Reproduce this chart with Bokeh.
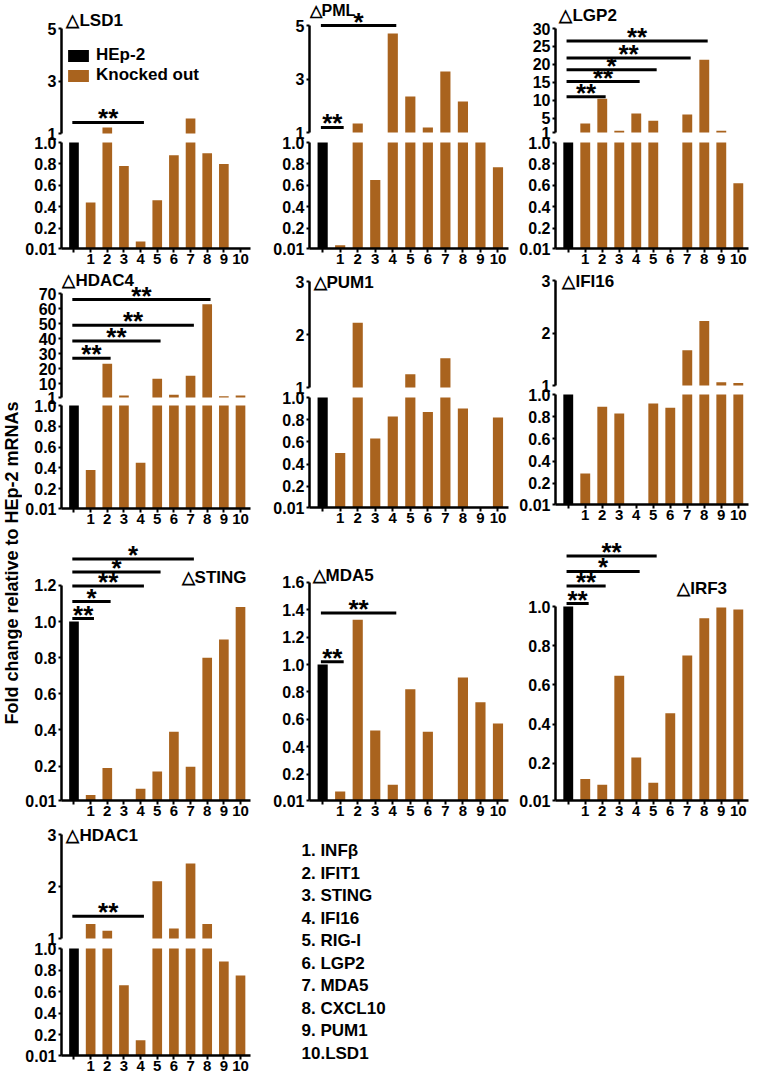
import math
from bokeh.plotting import figure
from bokeh.models import (Range1d, FixedTicker, CustomJSTickFormatter, Label,
                          Legend, LegendItem, ColumnDataSource, Spacer)
from bokeh.layouts import row, column
from bokeh.embed import file_html
from bokeh.resources import INLINE
from bokeh.core.properties import value

FONT = "Liberation Sans"
BLACK = "#000000"
ORANGE = "#A9631E"

# ---------------- data ----------------
categories = ["HEp-2", "1", "2", "3", "4", "5", "6", "7", "8", "9", "10"]
x_tick_labels = ["", "1", "2", "3", "4", "5", "6", "7", "8", "9", "10"]
legend_labels = ["HEp-2", "Knocked out"]
y_axis_title = "Fold change relative to HEp-2 mRNAs"

lsd1 = [1.0, 0.44, 1.23, 0.78, 0.075, 0.46, 0.88, 1.57, 0.90, 0.80, 0.0]
pml = [1.0, 0.04, 1.34, 0.65, 4.70, 2.35, 1.19, 3.28, 2.16, 1.00, 0.77]
lgp2 = [1.0, 3.5, 10.4, 1.5, 6.3, 4.3, 0.0, 6.0, 21.3, 1.5, 0.62]
hdac4 = [1.0, 0.38, 23.4, 2.3, 0.45, 13.5, 2.8, 15.5, 62.8, 1.8, 2.3]
pum1 = [1.0, 0.50, 2.22, 0.63, 0.83, 1.25, 0.87, 1.55, 0.90, 0.0, 0.82]
ifi16 = [1.0, 0.29, 0.89, 0.83, 0.0, 0.92, 0.88, 1.67, 2.23, 1.06, 1.05]
sting = [1.0, 0.04, 0.19, 0.0, 0.075, 0.17, 0.39, 0.196, 0.80, 0.90, 1.08]
mda5 = [1.0, 0.075, 1.325, 0.52, 0.125, 0.82, 0.51, 0.012, 0.905, 0.725, 0.57]
irf3 = [1.0, 0.12, 0.09, 0.647, 0.23, 0.10, 0.455, 0.75, 0.94, 0.995, 0.985]
hdac1 = [1.0, 1.28, 1.15, 0.66, 0.15, 2.10, 1.19, 2.44, 1.28, 0.88, 0.75]

# significance bars: last bar covered, height (data units), label
lsd1_sig_end, lsd1_sig_y, lsd1_sig_txt = [4], [1.42], ["**"]
pml_sig_end, pml_sig_y, pml_sig_txt = [4, 1], [5.0, 1.19], ["*", "**"]
lgp2_sig_end = [8, 7, 5, 4, 2]
lgp2_sig_y = [26.5, 21.8, 18.5, 15.2, 11.0]
lgp2_sig_txt = ["**", "**", "*", "**", "**"]
hdac4_sig_end = [8, 7, 5, 2]
hdac4_sig_y = [66.0, 49.0, 38.5, 27.0]
hdac4_sig_txt = ["**", "**", "**", "**"]
sting_sig_end = [7, 5, 4, 2, 1]
sting_sig_y = [1.345, 1.274, 1.197, 1.11, 1.016]
sting_sig_txt = ["*", "*", "**", "*", "**"]
mda5_sig_end, mda5_sig_y, mda5_sig_txt = [4, 1], [1.375, 1.02], ["**", "**"]
irf3_sig_end = [5, 4, 2, 1]
irf3_sig_y = [1.258, 1.179, 1.104, 1.015]
irf3_sig_txt = ["**", "*", "**", "**"]
hdac1_sig_end, hdac1_sig_y, hdac1_sig_txt = [4], [1.43], ["**"]

titles = ["△LSD1", "△PML", "△LGP2", "△HDAC4", "△PUM1", "△IFI16",
          "△STING", "△MDA5", "△IRF3", "△HDAC1"]

ticks_5 = [1, 3, 5]
ticks_lgp2 = [1, 5, 10, 15, 20, 25, 30]
ticks_hdac4 = [1, 10, 20, 30, 40, 50, 60, 70]
ticks_3 = [1, 2, 3]
ticks_low = [0.01, 0.2, 0.4, 0.6, 0.8, 1.0]
ticks_sting = [0.01, 0.2, 0.4, 0.6, 0.8, 1.0, 1.2]
ticks_mda5 = [0.01, 0.2, 0.4, 0.6, 0.8, 1.0, 1.2, 1.4, 1.6]
ticks_irf3 = [0.01, 0.2, 0.4, 0.6, 0.8, 1.0]

gene_labels = ["1. INFβ", "2. IFIT1", "3. STING", "4. IFI16", "5. RIG-I",
               "6. LGP2", "7. MDA5", "8. CXCL10", "9. PUM1", "10.LSD1"]

# ---------------- geometry / style ----------------
X0, X1 = -0.75, 10.6
BAR_W = 0.58
LAB_W = 22
COLS = [(22, 239, 37, 11), (261, 255, 48, 8), (516, 243, 37, 11)]
STAR_SIZE = 26
STAR_DROP = -4
PAD = 10
TOP_FMT = "return tick.toFixed(0);"
LOW_FMT = "return tick < 0.05 ? '0.01' : tick.toFixed(1);"


class Frame:
    def __init__(self, p, left, right, top, bottom, y0, y1):
        self.p, self.left, self.right, self.top, self.bottom = p, left, right, top, bottom
        self.y0, self.y1 = y0, y1
        self.ppx = (right - left) / (X1 - X0)
        self.ppy = (bottom - top) / (y1 - y0)

    def x_at(self, px):
        return X0 + (px - self.left) / self.ppx

    def y_at(self, py):
        return self.y1 - (py - self.top) / self.ppy


def new_frame(col, page_top, height, bt, bb, y0, y1, xaxis):
    fx0, w, bl, br = COLS[col]
    p = figure(width=w, height=height, x_range=Range1d(X0, X1), y_range=Range1d(y0, y1),
               output_backend="svg", toolbar_location=None,
               min_border_left=bl, min_border_right=br, min_border_top=bt,
               min_border_bottom=bb,
               x_axis_location="below" if xaxis else None, y_axis_location="left")
    p.grid.visible = False
    p.outline_line_color = None
    return Frame(p, fx0 + bl, fx0 + w - br, page_top + bt, page_top + height - bb, y0, y1)


def style_axis(ax, size):
    ax.axis_line_width = 2.5
    ax.axis_line_color = BLACK
    ax.major_tick_line_width = 2
    ax.major_tick_line_color = BLACK
    ax.major_tick_in = 0
    ax.minor_tick_line_color = None
    ax.major_label_text_font = FONT
    ax.major_label_text_font_size = size
    ax.major_label_text_font_style = "bold"
    ax.major_label_text_color = BLACK


def style_y(fr, ticks, code, bounds):
    ax = fr.p.yaxis[0]
    style_axis(ax, "16px")
    ax.ticker = FixedTicker(ticks=ticks)
    ax.formatter = CustomJSTickFormatter(code=code)
    ax.bounds = bounds
    ax.major_tick_out = 3
    ax.major_label_standoff = 2


def style_x(fr):
    ax = fr.p.xaxis[0]
    style_axis(ax, "15px")
    ax.ticker = FixedTicker(ticks=list(range(len(categories))))
    ax.formatter = CustomJSTickFormatter(
        args=dict(labels=x_tick_labels),
        code="const i = Math.round(tick); return (i >= 0 && i < labels.length) ? labels[i] : '';")
    ax.major_tick_out = 4
    ax.major_label_standoff = 1


def add_bars(fr, vals, part):
    xs = list(range(len(vals)))
    if part == "top":
        tops = [max(v, 1.0) for v in vals]
        bots = [1.0] * len(vals)
    elif part == "low":
        tops = [max(min(v, 1.0), 0.01) for v in vals]
        bots = [0.01] * len(vals)
    else:
        tops = [max(v, 0.01) for v in vals]
        bots = [0.01] * len(vals)
    src_h = ColumnDataSource(dict(x=xs[:1], top=tops[:1], bottom=bots[:1]))
    src_k = ColumnDataSource(dict(x=xs[1:], top=tops[1:], bottom=bots[1:]))
    rh = fr.p.vbar(x="x", top="top", bottom="bottom", width=BAR_W, source=src_h,
                   fill_color=BLACK, line_color=None)
    rk = fr.p.vbar(x="x", top="top", bottom="bottom", width=BAR_W, source=src_k,
                   fill_color=ORANGE, line_color=None)
    return rh, rk


def add_sig(fr, ends, levels, texts):
    x0 = [-0.1] * len(ends)
    x1 = [e + 0.2 for e in ends]
    fr.p.segment(x0=x0, y0=levels, x1=x1, y1=levels, line_width=3, line_color=BLACK)
    mids = [(a + b) / 2 for a, b in zip(x0, x1)]
    ys = [l - STAR_DROP / fr.ppy for l in levels]
    fr.p.text(x=mids, y=ys, text=texts, text_font=value(FONT),
              text_font_size=f"{STAR_SIZE}px", text_font_style="bold",
              text_align="center", text_baseline="alphabetic", text_color=BLACK)


def add_title(fr, text, px, py, align="left", size="17px"):
    fr.p.add_layout(Label(x=fr.x_at(px), y=fr.y_at(py), text=text,
                          text_font=FONT, text_font_size=size, text_font_style="bold",
                          text_color=BLACK, text_align=align, text_baseline="middle"))


def broken_panel(col, vals, row_top, row_h, anchors, top_ticks, one_px, bb,
                 title, tdx, ty, sig=None, tsize="17px"):
    (va, pa), (vb, pb) = anchors
    top_end = pb + PAD
    top_h = top_end - row_top
    ppy = (pb - pa) / (va - vb)
    y1 = va + (pa - row_top) / ppy
    y0 = vb - (top_end - pb) / ppy
    top = new_frame(col, row_top, top_h, 0, 0, y0, y1, False)
    style_y(top, top_ticks, TOP_FMT, (min(top_ticks), max(top_ticks)))
    rh, rk = add_bars(top, vals, "top")

    low_start = one_px - PAD
    overlap = top_end - low_start
    low_h = row_top + row_h - low_start
    bt = PAD - 1
    ft = low_start + bt
    fb = row_top + row_h - bb
    lppy = (fb - one_px) / 0.99
    ly1 = 1.0 + (one_px - ft) / lppy
    low = new_frame(col, low_start, low_h, bt, bb, 0.01, ly1, True)
    low.p.margin = (-overlap, 0, 0, 0)
    low.p.border_fill_color = None
    low.p.background_fill_color = None
    style_y(low, ticks_low, LOW_FMT, (0.01, 1.0))
    style_x(low)
    add_bars(low, vals, "low")
    if sig:
        add_sig(top, *sig)
    add_title(top, title, top.left + tdx, ty, size=tsize)
    return column(top.p, low.p), top, (rh, rk)


def full_panel(col, vals, row_top, row_h, one_px, ticks, bb, title, tdx, ty, sig,
               align="left"):
    fb = row_top + row_h - bb
    ppy = (fb - one_px) / 0.99
    y1 = 1.0 + (one_px - row_top) / ppy
    fr = new_frame(col, row_top, row_h, 0, bb, 0.01, y1, True)
    style_y(fr, ticks, LOW_FMT, (0.01, max(ticks)))
    style_x(fr)
    add_bars(fr, vals, "full")
    add_sig(fr, *sig)
    base = fr.right if align == "right" else fr.left
    add_title(fr, title, base + tdx, ty, align)
    return fr.p


# ---------------- row 1 ----------------
R1, H1 = 0, 270
lsd1_col, lsd1_top, (rh, rk) = broken_panel(
    0, lsd1, R1, H1, ((5, 28), (1, 133)), ticks_5, 142, 22, titles[0], 5, 20,
    (lsd1_sig_end, lsd1_sig_y, lsd1_sig_txt))
legend = Legend(items=[LegendItem(label=legend_labels[0], renderers=[rh]),
                       LegendItem(label=legend_labels[1], renderers=[rk])],
                location=(4, 58), padding=0, margin=0, spacing=0,
                glyph_width=26, glyph_height=15, label_standoff=5,
                label_text_font=FONT, label_text_font_size="17px",
                label_text_font_style="bold", label_text_color=BLACK,
                border_line_color=None, background_fill_alpha=0)
lsd1_top.p.add_layout(legend)
pml_col, _, _ = broken_panel(
    1, pml, R1, H1, ((5, 25), (1, 132)), ticks_5, 142, 22, titles[1], 0, 10,
    (pml_sig_end, pml_sig_y, pml_sig_txt), tsize="16px")
lgp2_col, _, _ = broken_panel(
    2, lgp2, R1, H1, ((30, 28), (1, 132)), ticks_lgp2, 142, 22, titles[2], 4, 15,
    (lgp2_sig_end, lgp2_sig_y, lgp2_sig_txt))

# ---------------- row 2 ----------------
R2, H2 = 270, 260
hdac4_col, _, _ = broken_panel(
    0, hdac4, R2, H2, ((70, 293), (1, 397)), ticks_hdac4, 405, 22, titles[3], 1, 280,
    (hdac4_sig_end, hdac4_sig_y, hdac4_sig_txt))
pum1_col, _, _ = broken_panel(
    1, pum1, R2, H2, ((3, 281), (1, 387)), ticks_3, 397, 23, titles[4], 4, 282)
ifi16_col, _, _ = broken_panel(
    2, ifi16, R2, H2, ((3, 280), (1, 385)), ticks_3, 394, 26, titles[5], 7, 281)

# ---------------- row 3 ----------------
R3, H3 = 530, 294
sting_p = full_panel(0, sting, R3, H3, 621, ticks_sting, 24, titles[6], -4, 577,
                     (sting_sig_end, sting_sig_y, sting_sig_txt), align="right")
mda5_p = full_panel(1, mda5, R3, H3, 664, ticks_mda5, 24, titles[7], 3, 575,
                    (mda5_sig_end, mda5_sig_y, mda5_sig_txt))
irf3_p = full_panel(2, irf3, R3, H3, 606, ticks_irf3, 24, titles[8], 123, 588,
                    (irf3_sig_end, irf3_sig_y, irf3_sig_txt))

# ---------------- row 4 ----------------
R4, H4 = 824, 252
hdac1_col, _, _ = broken_panel(
    0, hdac1, R4, H4, ((3, 834), (1, 938)), ticks_3, 948, 21, titles[9], 5, 835,
    (hdac1_sig_end, hdac1_sig_y, hdac1_sig_txt))

LIST_W = COLS[1][1]
first_off, step = 850 - R4, 22.5
lst = figure(width=LIST_W, height=H4, x_range=Range1d(0, LIST_W),
             y_range=Range1d((H4 - first_off) / step, -first_off / step),
             output_backend="svg", toolbar_location=None,
             x_axis_location=None, y_axis_location=None, min_border=0)
lst.grid.visible = False
lst.outline_line_color = None
idx = list(range(len(gene_labels)))
lst.text(x=[40] * len(idx), y=idx, text=gene_labels, text_align="left",
         text_baseline="middle", text_font=value(FONT), text_font_size="17px",
         text_font_style="bold", text_color=BLACK)

# ---------------- shared y label ----------------
TOTAL_H = H1 + H2 + H3 + H4
lab = figure(width=LAB_W, height=TOTAL_H, x_range=Range1d(0, LAB_W),
             y_range=Range1d(0, TOTAL_H),
             output_backend="svg", toolbar_location=None,
             x_axis_location=None, y_axis_location=None, min_border=0)
lab.grid.visible = False
lab.outline_line_color = None
lab.add_layout(Label(x=LAB_W / 2, y=TOTAL_H - 562.5, text=y_axis_title, angle=math.pi / 2,
                     text_align="center", text_baseline="middle", text_font=FONT,
                     text_font_size="18px", text_font_style="bold", text_color=BLACK))

main = column(
    row(lsd1_col, pml_col, lgp2_col),
    row(hdac4_col, pum1_col, ifi16_col),
    row(sting_p, mda5_p, irf3_p),
    row(hdac1_col, lst, Spacer(width=COLS[2][1], height=H4)),
)
layout = row(lab, main)

open("out.html", "w").write(file_html(layout, INLINE))
